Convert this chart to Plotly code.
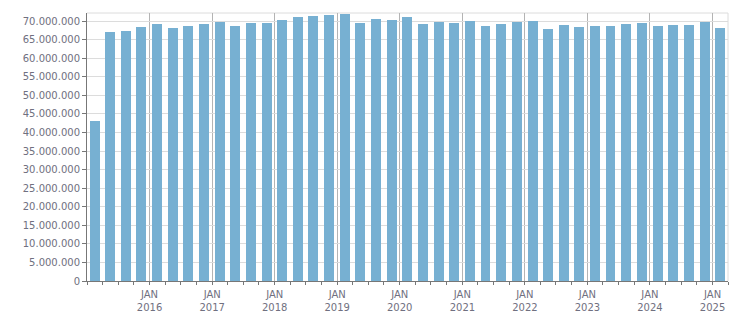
import plotly.graph_objects as go
import pandas as pd

# Quarterly values (2015 Q1 .. 2025 Q1)
quarters = pd.date_range("2015-01-01", "2025-01-01", freq="QS")
values_m = [43.1, 67.1, 67.4, 68.5, 69.3, 68.2, 68.7, 69.3, 69.8, 68.7,
            69.6, 69.6, 70.4, 71.2, 71.4, 71.7, 72.0, 69.6, 70.6, 70.4,
            71.2, 69.3, 69.8, 69.6, 70.1, 68.7, 69.3, 69.8, 70.1, 67.9,
            69.0, 68.5, 68.7, 68.7, 69.3, 69.6, 68.7, 69.0, 69.0, 69.8,
            68.2]
values = [v * 1_000_000 for v in values_m]

year_ticks = [f"{y}-01-01" for y in range(2016, 2026)]
year_text = [f"JAN<br>{y}" for y in range(2016, 2026)]
y_ticks = list(range(0, 70_000_001, 5_000_000))
y_text = [f"{v:,}".replace(",", ".") for v in y_ticks]

# bar centers: middle of each quarter
centers = [q + pd.Timedelta(days=45) for q in quarters]
bar_width_ms = 58 * 86400000

fig = go.Figure(go.Bar(
    x=centers, y=values, width=bar_width_ms,
    marker=dict(color="#77b0d2", line=dict(width=0)),
    hoverinfo="x+y",
))

font = dict(family="DejaVu Sans", size=10, color="#707080")

fig.update_layout(
    width=751, height=313,
    margin=dict(l=87, r=23, t=13, b=32),
    paper_bgcolor="white", plot_bgcolor="white",
    showlegend=False,
    font=font,
    bargap=0,
)

fig.update_xaxes(
    type="date", automargin=False,
    range=["2015-01-01", "2025-04-01"],
    tickmode="array", tickvals=year_ticks, ticktext=year_text,
    showgrid=True, gridcolor="#b4b4b4", gridwidth=1,
    showline=True, linecolor="#777777", linewidth=1,
    ticks="", tickfont=font, ticklabelstandoff=4,
    minor=dict(tickmode="linear", tick0="2015-01-01", dtick="M3",
               ticks="outside", ticklen=3, tickcolor="#777777",
               showgrid=False),
    mirror=False, zeroline=False,
)

fig.update_yaxes(
    automargin=False,
    range=[0, 72.2e6],
    tickmode="array", tickvals=y_ticks, ticktext=y_text,
    showgrid=True, gridcolor="#dcdcdc", gridwidth=1,
    showline=True, linecolor="#777777", linewidth=1,
    ticks="outside", ticklen=4, tickcolor="#777777",
    tickfont=font, zeroline=False,
)

# light border top and right
fig.add_shape(type="line", xref="paper", yref="paper", x0=0, x1=1, y0=1, y1=1,
              line=dict(color="#dcdcdc", width=1), layer="below")
fig.add_shape(type="line", xref="paper", yref="paper", x0=1, x1=1, y0=0, y1=1,
              line=dict(color="#dcdcdc", width=1), layer="below")

fig.write_html("out.html")
